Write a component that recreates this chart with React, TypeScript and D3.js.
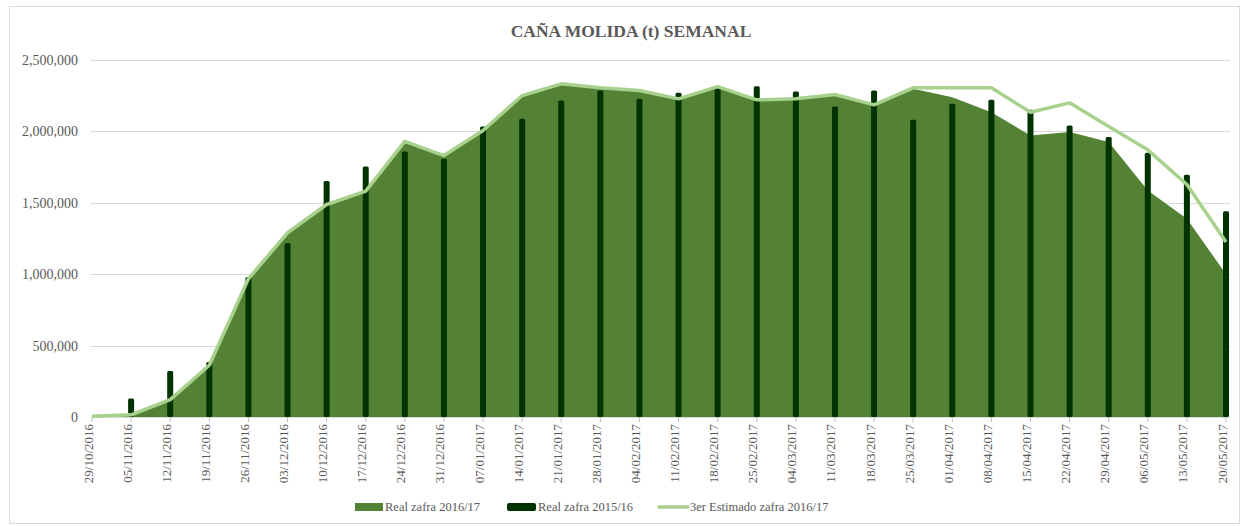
import { useEffect, useRef } from "react";
import * as d3 from "d3";

const weeks = [
  "29/10/2016", "05/11/2016", "12/11/2016", "19/11/2016", "26/11/2016", "03/12/2016",
  "10/12/2016", "17/12/2016", "24/12/2016", "31/12/2016", "07/01/2017", "14/01/2017",
  "21/01/2017", "28/01/2017", "04/02/2017", "11/02/2017", "18/02/2017", "25/02/2017",
  "04/03/2017", "11/03/2017", "18/03/2017", "25/03/2017", "01/04/2017", "08/04/2017",
  "15/04/2017", "22/04/2017", "29/04/2017", "06/05/2017", "13/05/2017", "20/05/2017",
];

// Real zafra 2016/17 (area)
const real1617 = [
  0, 10000, 115000, 355000, 960000, 1280000, 1480000, 1575000, 1920000, 1825000,
  1995000, 2245000, 2325000, 2300000, 2280000, 2222000, 2308000, 2215000, 2222000, 2252000,
  2180000, 2298000, 2240000, 2134000, 1971000, 1995000, 1925000, 1587000, 1388000, 1000000,
];

// Real zafra 2015/16 (bars)
const real1516 = [
  0, 130000, 322000, 385000, 980000, 1218000, 1652000, 1754000, 1860000, 1808000,
  2034000, 2088000, 2216000, 2286000, 2228000, 2270000, 2298000, 2317000, 2279000, 2174000,
  2286000, 2081000, 2193000, 2221000, 2151000, 2041000, 1960000, 1850000, 1696000, 1440000,
];

// 3er Estimado zafra 2016/17 (line)
const estimado = [
  5000, 15000, 122000, 362000, 968000, 1290000, 1488000, 1582000, 1930000, 1831000,
  2006000, 2251000, 2333000, 2305000, 2286000, 2228000, 2314000, 2221000, 2228000, 2258000,
  2186000, 2305000, 2305000, 2305000, 2134000, 2200000, 2034000, 1871000, 1628000, 1225000,
];

const yTicks = [0, 500000, 1000000, 1500000, 2000000, 2500000];

const AREA = "#548235";
const BAR = "#003300";
const LINE = "#A9D18E";
const TXT = "#595959";
const FONT = "'Liberation Serif', 'Times New Roman', serif";

export default function App() {
  const ref = useRef<SVGSVGElement>(null);

  useEffect(() => {
    const W = 1242, H = 526;
    const svg = d3.select(ref.current);
    svg.selectAll("*").remove();
    svg.attr("width", W).attr("height", H).attr("viewBox", `0 0 ${W} ${H}`);

    const left = 90.5, right = 1230.5, top = 60, bottom = 417;
    const x = d3.scalePoint<string>().domain(weeks).range([92, 1226]);
    const y = d3.scaleLinear().domain([0, 2500000]).range([bottom, top]);

    svg.append("rect").attr("x", 0).attr("y", 0).attr("width", W).attr("height", H).attr("fill", "#fff");
    svg.append("rect").attr("x", 9.5).attr("y", 6.5).attr("width", 1230).attr("height", 517)
      .attr("fill", "none").attr("stroke", "#D9D9D9");

    svg.append("text").attr("x", 631).attr("y", 37).attr("text-anchor", "middle")
      .attr("font-family", FONT).attr("font-weight", "bold").attr("font-size", 17.5)
      .attr("fill", TXT).text("CAÑA MOLIDA (t) SEMANAL");

    // gridlines + y labels
    const gy = svg.append("g");
    yTicks.forEach(t => {
      if (t > 0) {
        gy.append("line").attr("x1", left).attr("x2", right)
          .attr("y1", Math.round(y(t)) + 0.5).attr("y2", Math.round(y(t)) + 0.5)
          .attr("stroke", "#D9D9D9").attr("stroke-width", 1);
      }
      gy.append("text").attr("x", 78).attr("y", y(t)).attr("dy", "0.35em")
        .attr("text-anchor", "end").attr("font-family", FONT).attr("font-size", 14)
        .attr("fill", TXT).text(d3.format(",")(t));
    });

    const idx = d3.range(weeks.length);

    // area
    const area = d3.area<number>().x(i => x(weeks[i])!).y0(bottom).y1(i => y(real1617[i]));
    svg.append("path").datum(idx).attr("fill", AREA).attr("d", area);

    // bars
    svg.append("g").selectAll("rect").data(idx.filter(i => real1516[i] > 0)).join("rect")
      .attr("x", i => x(weeks[i])! - 3).attr("width", 6)
      .attr("y", i => y(real1516[i])).attr("height", i => bottom - y(real1516[i]))
      .attr("rx", 1.5).attr("fill", BAR);

    // axis line + ticks
    svg.append("line").attr("x1", left).attr("x2", right).attr("y1", bottom + 0.5).attr("y2", bottom + 0.5)
      .attr("stroke", "#D9D9D9");
    svg.append("g").selectAll("line").data(weeks).join("line")
      .attr("x1", d => x(d)!).attr("x2", d => x(d)!).attr("y1", bottom).attr("y2", bottom + 5)
      .attr("stroke", "#BFBFBF");

    // line
    const line = d3.line<number>().x(i => x(weeks[i])!).y(i => y(estimado[i]));
    svg.append("path").datum(idx).attr("fill", "none").attr("stroke", LINE)
      .attr("stroke-width", 3.5).attr("stroke-linejoin", "round").attr("d", line);

    // x labels
    svg.append("g").selectAll("text").data(weeks).join("text")
      .attr("transform", d => `translate(${x(d)! + 0.5},424) rotate(-90)`)
      .attr("text-anchor", "end").attr("font-family", FONT).attr("font-size", 13)
      .attr("fill", TXT).text(d => d);

    // legend
    const lg = svg.append("g").attr("font-family", FONT).attr("font-size", 12.5).attr("fill", TXT);
    lg.append("rect").attr("x", 355).attr("y", 503).attr("width", 28).attr("height", 8).attr("fill", AREA);
    lg.append("text").attr("x", 385).attr("y", 511).text("Real zafra 2016/17");
    lg.append("rect").attr("x", 507).attr("y", 503).attr("width", 29).attr("height", 8).attr("rx", 2).attr("fill", BAR);
    lg.append("text").attr("x", 538).attr("y", 511).text("Real zafra 2015/16");
    lg.append("line").attr("x1", 659).attr("x2", 688).attr("y1", 507).attr("y2", 507)
      .attr("stroke", LINE).attr("stroke-width", 3.5).attr("stroke-linecap", "round");
    lg.append("text").attr("x", 690).attr("y", 511).text("3er Estimado zafra 2016/17");
  }, []);

  return <svg ref={ref} style={{ position: "absolute", left: 0, top: 0, display: "block" }} />;
}
